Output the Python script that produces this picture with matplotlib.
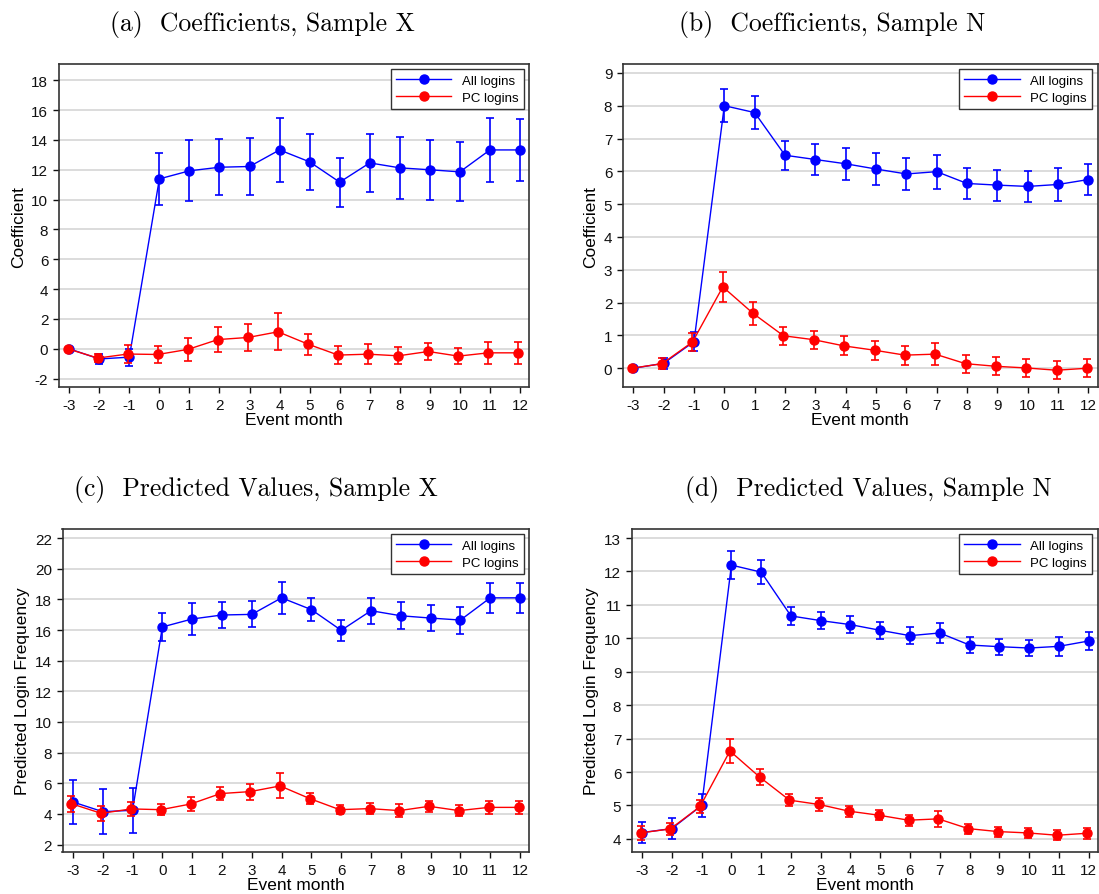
import matplotlib
matplotlib.use('Agg')
import matplotlib.pyplot as plt
from matplotlib.lines import Line2D
import numpy as np

plt.rcParams['font.family'] = ['Liberation Sans', 'DejaVu Sans']
plt.rcParams['axes.unicode_minus'] = False

# %%
# Event months
months = [-3, -2, -1, 0, 1, 2, 3, 4, 5, 6, 7, 8, 9, 10, 11, 12]

# (a) Coefficients, Sample X
a_all = [0, -0.68, -0.56, 11.39, 11.93, 12.17, 12.22, 13.33, 12.53, 11.17, 12.46, 12.13, 12.0, 11.86, 13.33, 13.33]
a_all_err = [0, 0.35, 0.56, 1.76, 2.04, 1.88, 1.9, 2.13, 1.9, 1.65, 1.92, 2.06, 2.0, 1.97, 2.15, 2.05]
a_pc = [0, -0.62, -0.35, -0.38, -0.04, 0.62, 0.76, 1.14, 0.31, -0.42, -0.36, -0.47, -0.18, -0.49, -0.27, -0.27]
a_pc_err = [0, 0.27, 0.62, 0.6, 0.76, 0.84, 0.92, 1.24, 0.7, 0.62, 0.65, 0.58, 0.58, 0.55, 0.72, 0.72]

# (b) Coefficients, Sample N
b_all = [0, 0.15, 0.81, 8.0, 7.79, 6.49, 6.36, 6.23, 6.07, 5.92, 5.99, 5.63, 5.58, 5.54, 5.6, 5.75]
b_all_err = [0, 0.17, 0.28, 0.5, 0.5, 0.44, 0.47, 0.49, 0.49, 0.48, 0.52, 0.47, 0.47, 0.47, 0.49, 0.48]
b_pc = [0, 0.14, 0.8, 2.48, 1.67, 0.99, 0.87, 0.68, 0.55, 0.4, 0.43, 0.14, 0.06, 0.01, -0.06, 0.0]
b_pc_err = [0, 0.16, 0.27, 0.45, 0.35, 0.28, 0.28, 0.29, 0.29, 0.29, 0.34, 0.27, 0.27, 0.28, 0.27, 0.27]

# (c) Predicted Values, Sample X
c_all = [4.78, 4.15, 4.24, 16.2, 16.72, 16.98, 17.02, 18.1, 17.33, 15.98, 17.26, 16.93, 16.78, 16.65, 18.1, 18.1]
c_all_err = [1.43, 1.47, 1.47, 0.9, 1.07, 0.83, 0.85, 1.06, 0.76, 0.67, 0.84, 0.87, 0.86, 0.88, 0.99, 0.98]
c_pc = [4.67, 4.04, 4.33, 4.28, 4.65, 5.33, 5.46, 5.83, 5.0, 4.28, 4.35, 4.22, 4.5, 4.22, 4.43, 4.43]
c_pc_err = [0.52, 0.5, 0.43, 0.37, 0.45, 0.45, 0.52, 0.82, 0.34, 0.28, 0.35, 0.4, 0.36, 0.38, 0.44, 0.44]

# (d) Predicted Values, Sample N
d_all = [4.19, 4.31, 5.0, 12.19, 11.98, 10.67, 10.53, 10.41, 10.24, 10.08, 10.16, 9.8, 9.75, 9.71, 9.76, 9.92]
d_all_err = [0.32, 0.32, 0.33, 0.41, 0.35, 0.26, 0.25, 0.25, 0.25, 0.25, 0.3, 0.24, 0.24, 0.25, 0.28, 0.28]
d_pc = [4.18, 4.3, 4.97, 6.63, 5.85, 5.16, 5.03, 4.83, 4.71, 4.56, 4.6, 4.31, 4.22, 4.18, 4.11, 4.17]
d_pc_err = [0.2, 0.19, 0.2, 0.35, 0.25, 0.17, 0.18, 0.16, 0.15, 0.17, 0.24, 0.15, 0.15, 0.16, 0.15, 0.16]

# %%
W, H = 1099, 895
fig = plt.figure(figsize=(W / 100, H / 100), dpi=100)

def px_axes(left, top, right, bottom):
    return fig.add_axes([left / W, 1 - bottom / H, (right - left) / W, (bottom - top) / H])

panels = [
    dict(box=(58.7, 65, 529, 388.3), all=a_all, all_err=a_all_err, pc=a_pc, pc_err=a_pc_err,
         ylim=(-2.58, 19.09), yticks=np.arange(-2, 19, 2), ylabel='Coefficient',
         title='(a)  Coefficients, Sample X', tpos=(262, 25)),
    dict(box=(622.7, 65, 1097.5, 388.3), all=b_all, all_err=b_all_err, pc=b_pc, pc_err=b_pc_err,
         ylim=(-0.58, 9.27), yticks=np.arange(0, 10, 1), ylabel='Coefficient',
         title='(b)  Coefficients, Sample N', tpos=(832, 25)),
    dict(box=(62.5, 530, 529, 853.3), all=c_all, all_err=c_all_err, pc=c_pc, pc_err=c_pc_err,
         ylim=(1.5, 22.59), yticks=np.arange(2, 23, 2), ylabel='Predicted Login Frequency',
         title='(c)  Predicted Values, Sample X', tpos=(256, 490)),
    dict(box=(631.7, 530, 1097.5, 853.3), all=d_all, all_err=d_all_err, pc=d_pc, pc_err=d_pc_err,
         ylim=(3.6, 13.27), yticks=np.arange(4, 14, 1), ylabel='Predicted Login Frequency',
         title='(d)  Predicted Values, Sample N', tpos=(868, 490)),
]

blue, red = '#0000ff', '#ff0000'
handles = [Line2D([], [], color=blue, marker='o', markersize=6.5, linewidth=1.0),
           Line2D([], [], color=red, marker='o', markersize=6.5, linewidth=1.0)]

x = np.array(months)
for p in panels:
    ax = px_axes(*p['box'])
    ax.set_axisbelow(True)
    ax.yaxis.grid(True, color='#d9d9d9', linewidth=1.3)
    ax.errorbar(x, p['all'], yerr=p['all_err'], color=blue, marker='o', markersize=6.5,
                linewidth=1.0, elinewidth=1.2, capsize=2.8, capthick=1.2, zorder=3)
    ax.errorbar(x - 0.05, p['pc'], yerr=p['pc_err'], color=red, marker='o', markersize=6.5,
                linewidth=1.0, elinewidth=1.2, capsize=2.8, capthick=1.2, zorder=4)
    ax.set_xlim(-3.35, 12.3)
    ax.set_xticks(months)
    ax.set_ylim(*p['ylim'])
    ax.set_yticks(p['yticks'])
    ax.tick_params(direction='out', length=4, width=1, labelsize=11, colors='#111111')
    for s in ax.spines.values():
        s.set_linewidth(1.2)
        s.set_color('#333333')
    ax.set_xlabel('Event month', fontsize=12.5, labelpad=0)
    ax.set_ylabel(p['ylabel'], fontsize=12.5)
    leg = ax.legend(handles, ['All logins', 'PC logins'], loc='upper right', fontsize=9.5,
                    handlelength=4.2, fancybox=False, framealpha=1, edgecolor='#333333',
                    borderaxespad=0.4, labelspacing=0.35)
    leg.get_frame().set_linewidth(1.0)
    fig.text(p['tpos'][0] / W, 1 - p['tpos'][1] / H, p['title'], family='cmr10',
             fontsize=18.5, ha='center', va='center')

fig.savefig('out.png', dpi=100)
